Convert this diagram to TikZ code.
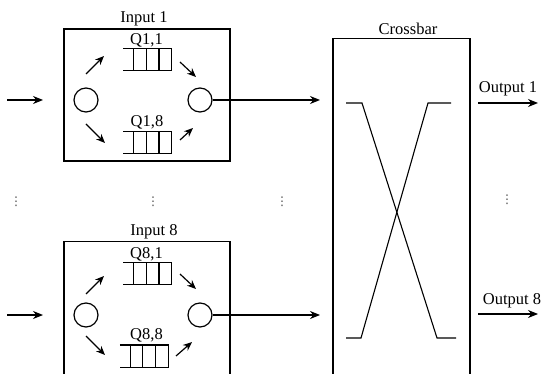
\documentclass[tikz,border=0pt]{standalone}
\usepackage{fontspec}
\setmainfont{Liberation Serif}
\newfontfamily\dvfont{DejaVu Sans}
\usetikzlibrary{arrows.meta,calc}
\newcommand{\drawqueue}[1]{%
  \draw (#1.north west) -- (#1.north east) -- (#1.south east) -- (#1.south west);
  \foreach \f in {0.213,0.475,0.738}
    \draw ($(#1.north west)!\f!(#1.north east)$) -- ($(#1.south west)!\f!(#1.south east)$);
}
\begin{document}
\begin{tikzpicture}[x=1pt,y=-1pt,line width=1.2pt,
  every node/.style={font=\fontsize{16.5}{19}\selectfont},
  box/.style={draw,rectangle,inner sep=0pt},
  port/.style={draw,circle,minimum size=24pt,inner sep=0pt},
  qnode/.style={rectangle,minimum width=47pt,minimum height=21pt,inner sep=0pt},
  lbl/.style={inner sep=0pt},
  vd/.style={inner sep=0pt,text=black!70,font=\dvfont\fontsize{12}{14}\selectfont},
  arr/.style={-{Stealth[length=10pt,width=8pt]}},
  sarr/.style={-{Stealth[length=9pt,width=7.5pt]}}]
\clip (0,0) rectangle (541,374);

% ---------- Input 1 ----------
\node[box,minimum width=166pt,minimum height=132pt] (in1) at (147,95) {};
\node[lbl] (t1) at (144,19) {Input 1};
\node[port] (l1) at (86,100) {};
\node[port] (r1) at (200,100) {};
\node[qnode] (q11) at (147.5,59.5) {};
\drawqueue{q11}
\node[lbl] at (146.5,40) {Q1,1};
\node[qnode] (q18) at (147.5,142.5) {};
\drawqueue{q18}
\node[lbl] at (147,122) {Q1,8};
\coordinate (a1s) at (86,74);   \coordinate (a1e) at (104,56);
\coordinate (a2s) at (180,62);  \coordinate (a2e) at (196,77);
\coordinate (a3s) at (86,124);  \coordinate (a3e) at (105,143);
\coordinate (a4s) at (180,140); \coordinate (a4e) at (193,128);
\draw[sarr] (a1s) -- (a1e);
\draw[sarr] (a2s) -- (a2e);
\draw[sarr] (a3s) -- (a3e);
\draw[sarr] (a4s) -- (a4e);
\coordinate (i1s) at (7,100); \coordinate (i1e) at (43,100);
\draw[arr] (i1s) -- (i1e);
\coordinate (x1) at (320,100);
\draw[arr] (r1) -- (x1);

% ---------- dots ----------
\node[vd] at (16,202) {⋮};
\node[vd] at (153,202) {⋮};
\node[vd] at (282,202) {⋮};
\node[vd] at (507,200) {⋮};

% ---------- Input 8 ----------
\node[box,minimum width=166pt,minimum height=150pt,anchor=north] (in8) at (147,241) {};
\node[lbl] (t8) at (154,232) {Input 8};
\node[port] (l8) at (86,315) {};
\node[port] (r8) at (200,315) {};
\node[qnode] (q81) at (147.5,273.5) {};
\drawqueue{q81}
\node[lbl] at (146.5,254) {Q8,1};
\node[qnode] (q88) at (144,356) {};
\drawqueue{q88}
\node[lbl] at (146.5,335) {Q8,8};
\coordinate (b1s) at (86,294);  \coordinate (b1e) at (104,276);
\coordinate (b2s) at (180,274); \coordinate (b2e) at (196,289);
\coordinate (b3s) at (86,336);  \coordinate (b3e) at (105,355);
\coordinate (b4s) at (176,356); \coordinate (b4e) at (192,342);
\draw[sarr] (b1s) -- (b1e);
\draw[sarr] (b2s) -- (b2e);
\draw[sarr] (b3s) -- (b3e);
\draw[sarr] (b4s) -- (b4e);
\coordinate (i8s) at (7,315); \coordinate (i8e) at (43,315);
\draw[arr] (i8s) -- (i8e);
\coordinate (x8) at (320,315);
\draw[arr] (r8) -- (x8);

% ---------- Crossbar ----------
\node[box,minimum width=137pt,minimum height=350pt,anchor=north] (cb) at (401.5,38) {};
\node[lbl] (tcb) at (408,29) {Crossbar};
\draw[line width=1.1pt] (346,103) -- (362,103) -- (437,338) -- (456,338);
\draw[line width=1.1pt] (451,103) -- (428,103) -- (361,338) -- (346,338);

% ---------- Outputs ----------
\coordinate (o1s) at (478,103); \coordinate (o1e) at (538,103);
\draw[arr] (o1s) -- (o1e);
\node[lbl] at (508,89) {Output 1};
\coordinate (o8s) at (478,314); \coordinate (o8e) at (538,314);
\draw[arr] (o8s) -- (o8e);
\node[lbl] at (512,301) {Output 8};
\end{tikzpicture}
\end{document}
